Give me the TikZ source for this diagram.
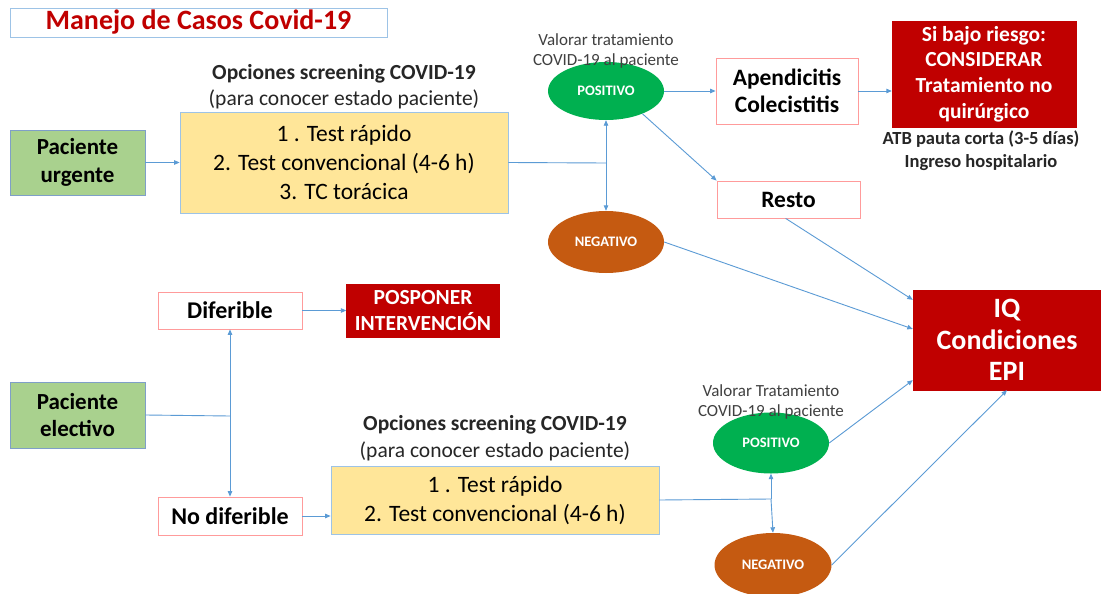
\documentclass[tikz,border=0pt]{standalone}
\usepackage{fontspec}
\setmainfont{Carlito}
\usetikzlibrary{arrows.meta,shapes.geometric,calc}
\definecolor{arr}{HTML}{5B9BD5}
\definecolor{darkred}{HTML}{C00000}
\definecolor{lgreen}{HTML}{A9D18E}
\definecolor{lyellow}{HTML}{FFE699}
\definecolor{pinkb}{HTML}{FF9B9B}
\definecolor{blueb}{HTML}{7F9FC8}
\definecolor{lblueb}{HTML}{9DC3E6}
\definecolor{posgreen}{HTML}{00B050}
\definecolor{negorange}{HTML}{C55A11}
\definecolor{txtgray}{HTML}{404040}
\newcommand\fsz[2]{\fontsize{#1}{#2}\selectfont}
\tikzset{
  basebox/.style={rectangle, inner sep=0pt, align=center},
  greenbox/.style={basebox, fill=lgreen, draw=blueb, line width=0.8pt, font=\fsz{23}{28}\bfseries},
  yellowbox/.style={basebox, fill=lyellow, draw=lblueb, line width=0.8pt, font=\fsz{23.5}{29}},
  pinkbox/.style={basebox, fill=white, draw=pinkb, line width=0.8pt, font=\fsz{23.5}{27}\bfseries},
  redbox/.style={basebox, fill=darkred, draw=darkred, text=white},
  oval/.style={ellipse, inner sep=0pt, text=white, font=\fsz{14.5}{16}\bfseries},
  toplabel/.style={align=center, inner sep=0pt, text=black!85},
  vallabel/.style={align=center, inner sep=0pt, text=txtgray, font=\fsz{17}{20}},
  conn/.style={draw=arr, line width=0.9pt, -{Triangle[length=5.5pt,width=4.5pt]}},
  plain/.style={draw=arr, line width=0.9pt}
}
\begin{document}
\begin{tikzpicture}[x=1pt,y=-1pt]
\useasboundingbox (0,0) rectangle (1101,594);
\fill[white] (0,0) rectangle (1101,594);

% Title
\node[basebox, draw=lblueb, line width=0.8pt, minimum width=377pt, minimum height=29pt,
      text=darkred, font=\fsz{28}{30}\bfseries] (title) at (198.5,22.5) {Manejo de Casos Covid-19};

% ---------- Urgent part ----------
\node[greenbox, minimum width=135pt, minimum height=65pt] (urg) at (77.5,162.5) {Paciente\\urgente};
\node[toplabel, font=\fsz{21.5}{26}] (lbl1) at (344,87) {{\bfseries Opciones screening COVID-19}\\(para conocer estado paciente)};
\node[yellowbox, minimum width=328pt, minimum height=101pt] (yel1) at (344,162.5)
  {1 . Test rápido\\2. Test convencional (4-6 h)\\3. TC torácica};

\node[oval, fill=posgreen, minimum width=116pt, minimum height=58pt] (pos1) at (606,91) {POSITIVO};
\node[oval, fill=negorange, minimum width=116pt, minimum height=62pt] (neg1) at (606,242) {NEGATIVO};
\node[vallabel] (val1) at (606,51) {Valorar tratamiento\\COVID-19 al paciente};

\node[pinkbox, minimum width=142pt, minimum height=66pt] (apc) at (787,91) {Apendicitis\\Colecistitis};
\node[redbox, minimum width=184pt, minimum height=106pt, font=\fsz{21.5}{25.7}\bfseries] (red1) at (984,74)
  {Si bajo riesgo:\\CONSIDERAR\\Tratamiento no\\quirúrgico};
\node[toplabel, font=\fsz{18.5}{23}\bfseries] (atb) at (981,150.5) {ATB pauta corta (3-5 días)\\Ingreso hospitalario};
\node[pinkbox, minimum width=143pt, minimum height=37pt] (resto) at (788.5,199.5) {Resto};

\node[redbox, minimum width=188pt, minimum height=100pt, font=\fsz{28}{31.5}\bfseries] (iq) at (1007,340)
  {IQ\\Condiciones\\EPI};

% ---------- Elective part ----------
\node[greenbox, minimum width=135pt, minimum height=66pt, font=\fsz{23}{27}\bfseries] (elec) at (77.5,415) {Paciente\\electivo};
\node[pinkbox, minimum width=144pt, minimum height=37pt, font=\fsz{24}{27}\bfseries] (dif) at (230,310.5) {Diferible};
\node[redbox, minimum width=153pt, minimum height=53pt, font=\fsz{21.5}{26}\bfseries] (posp) at (423,310.5)
  {POSPONER\\INTERVENCIÓN};
\node[pinkbox, minimum width=144pt, minimum height=38pt, font=\fsz{24}{27}\bfseries] (nodif) at (230,516) {No diferible};

\node[toplabel, font=\fsz{21.5}{27}] (lbl2) at (495,438.5) {{\bfseries Opciones screening COVID-19}\\(para conocer estado paciente)};
\node[yellowbox, minimum width=328pt, minimum height=68pt] (yel2) at (495,500)
  {1 . Test rápido\\2. Test convencional (4-6 h)};

\node[oval, fill=posgreen, minimum width=116pt, minimum height=61pt] (pos2) at (771,443) {POSITIVO};
\node[oval, fill=negorange, minimum width=117pt, minimum height=64pt] (neg2) at (773,565) {NEGATIVO};
\node[vallabel] (val2) at (771,402) {Valorar Tratamiento\\COVID-19 al paciente};

% ---------- Connectors ----------
\coordinate (j1) at (606,163);
\coordinate (j2) at (230,416);
\coordinate (j3) at (771,499);

\draw[conn] (urg.east) -- (urg.east -| yel1.west);
\draw[plain] (yel1.east) -- (j1);
\draw[conn] (j1) -- (pos1.south);
\draw[conn] (j1) -- (neg1.north);
\draw[conn] (pos1.east) -- (pos1.east -| apc.west);
\draw[conn] (apc.east) -- (apc.east -| red1.west);
\draw[conn] (pos1.-32) -- (resto.north west);
\draw[conn] ($(resto.south west)!0.48!(resto.south east)$) -- ($(iq.north west)!0.1!(iq.south west)$);
\draw[conn] (neg1.east) -- ($(iq.north west)!0.39!(iq.south west)$);

\draw[conn] (dif.east) -- (dif.east -| posp.west);
\draw[plain] (elec.east) -- (j2);
\draw[conn] (j2) -- (dif.south);
\draw[conn] (j2) -- (nodif.north);
\draw[conn] (nodif.east) -- (nodif.east -| yel2.west);
\draw[plain] (yel2.east) -- (j3);
\draw[conn] (j3) -- (pos2.south);
\draw[conn] (j3) -- (neg2.north);
\draw[conn] (pos2.east) -- ($(iq.north west)!0.9!(iq.south west)$);
\draw[conn] (neg2.east) -- (iq.south);
\end{tikzpicture}
\end{document}
